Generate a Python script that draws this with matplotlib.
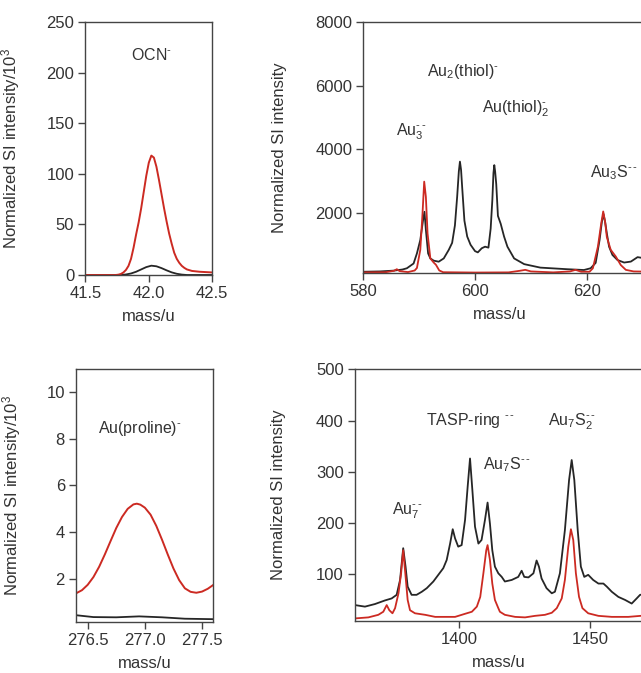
import matplotlib
matplotlib.use("Agg")
import matplotlib.pyplot as plt

plt.rcParams['font.family'] = ['Liberation Sans', 'DejaVu Sans']
plt.rcParams['mathtext.fontset'] = 'custom'
plt.rcParams['mathtext.rm'] = 'Liberation Sans'
plt.rcParams['mathtext.it'] = 'Liberation Sans:italic'
plt.rcParams['mathtext.bf'] = 'Liberation Sans:bold'

# ---------------- data ----------------
# Panel A: OCN-  (intensity / 10^3)
ocn_red_x = [41.50, 41.74, 41.76, 41.78, 41.80, 41.82, 41.84, 41.86, 41.88, 41.90, 41.92, 41.94,
             41.96, 41.98, 42.00, 42.02, 42.04, 42.06, 42.08, 42.10, 42.12, 42.14, 42.16, 42.18,
             42.20, 42.22, 42.24, 42.26, 42.28, 42.30, 42.34, 42.40, 42.50]
ocn_red_y = [0, 0, 0.3, 1, 2.5, 5, 9, 16, 27, 40, 52, 66,
             82, 98, 111, 118, 116, 107, 94, 80, 66, 53, 41, 31,
             22, 16, 12, 9, 7, 5.5, 4, 3.2, 2.5]
ocn_blk_x = [41.50, 41.78, 41.82, 41.86, 41.90, 41.94, 41.98, 42.02, 42.06, 42.10, 42.14, 42.18,
             42.22, 42.26, 42.30, 42.50]
ocn_blk_y = [0, 0, 0.5, 1.5, 3.2, 5.5, 7.8, 9.2, 8.6, 6.8, 4.6, 2.6, 1.2, 0.4, 0, 0]

# Panel B: Au3 / thiol region
au3_blk_x = [580.0, 583.0, 585.4, 587.0, 587.8, 589.0, 589.6, 590.2, 590.7, 590.95, 591.2, 591.6,
             592.0, 592.6, 593.5, 594.4, 595.3, 595.9, 596.4, 596.8, 597.1, 597.3, 597.5, 597.7,
             598.1, 598.6, 599.2, 600.0, 600.5, 601.2, 601.8, 602.4, 602.8, 603.1, 603.3, 603.45,
             603.6, 603.8, 604.1, 604.6, 605.2, 605.8, 607.0, 608.8, 611.7, 616.5, 619.5, 620.7,
             621.6, 622.3, 622.7, 623.0, 623.3, 623.6, 624.0, 624.6, 625.5, 626.7, 627.9, 629.1,
             630.5, 632.0]
au3_blk_y = [140, 150, 175, 210, 250, 400, 720, 1140, 1770, 2030, 1460, 720,
             560, 490, 457, 560, 830, 1050, 1600, 2500, 3300, 3610, 3350, 2800,
             1750, 1250, 990, 790, 750, 880, 930, 900, 1500, 2400, 3250, 3500,
             3300, 2900, 1900, 1650, 1250, 930, 560, 380, 270, 220, 195, 250,
             420, 1140, 1700, 1960, 1700, 1350, 930, 670, 510, 430, 460, 600,
             560, 520]
au3_red_x = [580.0, 584.0, 585.5, 586.0, 586.5, 588.0, 589.2, 589.6, 590.2, 590.6, 590.9, 591.2,
             591.5, 592.0, 592.6, 593.0, 593.6, 594.3, 600.0, 606.0, 608.0, 609.0, 610.0, 614.0,
             617.0, 618.0, 619.0, 620.5, 621.1, 622.0, 622.6, 622.95, 623.3, 623.6, 624.3, 625.2,
             626.1, 627.0, 628.4, 632.0]
au3_red_y = [120, 125, 170, 220, 160, 130, 180, 260, 830, 1980, 2980, 2500,
             1350, 560, 430, 360, 180, 125, 115, 120, 170, 200, 150, 120,
             150, 200, 140, 140, 250, 930, 1670, 2040, 1700, 1230, 830, 620,
             350, 200, 150, 140]

# Panel C: Au(proline)-  (intensity / 10^3)
pro_red_x = [276.40, 276.45, 276.50, 276.55, 276.60, 276.65, 276.70, 276.75, 276.80, 276.85,
             276.90, 276.93, 276.96, 277.00, 277.05, 277.10, 277.15, 277.20, 277.25, 277.30,
             277.35, 277.40, 277.45, 277.50, 277.55, 277.60]
pro_red_y = [1.39, 1.52, 1.75, 2.08, 2.52, 3.05, 3.62, 4.18, 4.65, 5.00,
             5.19, 5.22, 5.18, 5.05, 4.75, 4.27, 3.68, 3.05, 2.45, 1.95,
             1.60, 1.45, 1.41, 1.46, 1.58, 1.75]
pro_blk_x = [276.398, 276.55, 276.75, 276.95, 277.15, 277.35, 277.602]
pro_blk_y = [0.45, 0.37, 0.36, 0.40, 0.36, 0.30, 0.28]

# Panel D: Au7 region
au7_blk_x = [1360.2, 1364.0, 1367.8, 1371.6, 1374.2, 1376.1, 1377.4, 1378.6, 1379.5, 1380.3,
             1381.8, 1383.7, 1385.7, 1387.6, 1390.1, 1392.0, 1393.9, 1395.2, 1396.5, 1397.5,
             1398.4, 1399.6, 1400.9, 1402.2, 1403.2, 1404.1, 1405.0, 1406.0, 1407.3, 1408.5,
             1409.8, 1410.8, 1411.7, 1412.6, 1413.6, 1414.9, 1416.2, 1417.4, 1420.0, 1422.5,
             1423.8, 1424.8, 1426.4, 1428.3, 1429.5, 1430.4, 1431.4, 1433.3, 1435.3, 1436.5,
             1438.4, 1440.3, 1441.9, 1442.9, 1443.9, 1445.2, 1446.4, 1447.7, 1449.2, 1451.1,
             1453.1, 1455.0, 1456.3, 1458.2, 1460.7, 1463.3, 1465.8, 1467.7, 1469.0, 1472.0, 1475.0]
au7_blk_y = [40, 37, 42, 49, 53, 60, 89, 151, 115, 76,
             60, 60, 66, 73, 86, 99, 112, 128, 160, 188,
             170, 154, 157, 206, 271, 326, 264, 193, 160, 167,
             206, 240, 199, 147, 115, 102, 95, 86, 89, 95,
             107, 95, 94, 102, 127, 115, 92, 73, 63, 66,
             102, 186, 284, 323, 284, 186, 115, 95, 99, 89,
             82, 82, 76, 66, 56, 50, 43, 53, 60, 62, 62]
au7_red_x = [1360.2, 1365.3, 1369.1, 1371.0, 1372.3, 1373.3, 1374.5, 1375.5, 1376.8, 1377.8,
             1378.6, 1379.4, 1380.3, 1381.2, 1383.1, 1387.0, 1390.8, 1394.6, 1398.4, 1402.2,
             1404.8, 1406.7, 1408.0, 1409.2, 1410.3, 1410.8, 1411.7, 1412.6, 1413.6, 1414.9,
             1415.5, 1417.4, 1421.3, 1425.1, 1428.9, 1432.7, 1435.3, 1437.2, 1439.1, 1440.3,
             1441.6, 1442.6, 1443.5, 1444.5, 1445.7, 1447.0, 1449.2, 1453.1, 1458.2, 1464.5,
             1469.2, 1475.0]
au7_red_y = [14, 16, 21, 27, 40, 30, 24, 34, 63, 102,
             147, 102, 50, 30, 24, 21, 17, 17, 17, 23,
             27, 37, 56, 102, 147, 157, 128, 82, 50, 34,
             27, 21, 17, 16, 19, 21, 25, 34, 53, 89,
             154, 188, 167, 102, 56, 34, 24, 19, 17, 17,
             19, 18]

# ---------------- style ----------------
RED = '#cc2a22'
BLK = '#262626'
TXT = '#333333'
SPINE = '#444444'
FS = 12
AFS = 11.5
D2 = r'\text{-}\,\text{-}'
D1 = r'\text{-}'

fig = plt.figure(figsize=(6.41, 6.73), dpi=100)


def style(ax, right=True):
    for s in ['top', 'bottom', 'left', 'right']:
        ax.spines[s].set_color(SPINE)
        ax.spines[s].set_linewidth(1.0)
    ax.spines['right'].set_visible(right)
    ax.tick_params(direction='out', length=5, width=1, color=SPINE,
                   labelsize=FS, labelcolor=TXT, pad=3, right=False, top=False)


# Panel A
axA = fig.add_axes([0.1331, 0.5914, 0.1981, 0.3759])
axA.plot(ocn_blk_x, ocn_blk_y, color=BLK, lw=1.3)
axA.plot(ocn_red_x, ocn_red_y, color=RED, lw=1.4)
axA.set_xlim(41.5, 42.5)
axA.set_ylim(0, 250)
axA.set_xticks([41.5, 42.0, 42.5])
axA.set_xticklabels(['41.5', '42.0', '42.5'])
axA.set_yticks([0, 50, 100, 150, 200, 250])
style(axA)
axA.set_ylabel(r'Normalized SI intensity/10$^3$', fontsize=FS, color=TXT)
axA.yaxis.set_label_coords(-0.50, 0.5)
axA.set_xlabel('mass/u', fontsize=FS, color=TXT)
axA.xaxis.set_label_coords(0.5, -0.135)
axA.text(42.02, 217, 'OCN$^{' + D1 + '}$', fontsize=AFS, color=TXT, ha='center', va='center')

# Panel B
axB = fig.add_axes([0.5668, 0.5939, 0.4531, 0.3730])
axB.plot(au3_blk_x, au3_blk_y, color=BLK, lw=1.3)
axB.plot(au3_red_x, au3_red_y, color=RED, lw=1.3)
axB.set_xlim(580, 632)
axB.set_ylim(91, 8000)
axB.set_xticks([580, 600, 620])
axB.set_yticks([2000, 4000, 6000, 8000])
style(axB, right=False)
axB.set_ylabel('Normalized SI intensity', fontsize=FS, color=TXT)
axB.yaxis.set_label_coords(-0.264, 0.5)
axB.set_xlabel('mass/u', fontsize=FS, color=TXT)
axB.xaxis.set_label_coords(0.47, -0.135)
axB.text(585.85, 4555, 'Au$_3^{' + D2 + '}$', fontsize=AFS, color=TXT, ha='left', va='center')
axB.text(591.35, 6445, 'Au$_2$(thiol)$^{' + D1 + '}$', fontsize=AFS, color=TXT, ha='left', va='center')
axB.text(601.2, 5290, 'Au(thiol)$_2^{' + D1 + '}$', fontsize=AFS, color=TXT, ha='left', va='center')
axB.text(620.6, 3275, 'Au$_3$S$^{' + D2 + '}$', fontsize=AFS, color=TXT, ha='left', va='center')

# Panel C
axC = fig.add_axes([0.1186, 0.0758, 0.2137, 0.3759])
axC.plot(pro_blk_x, pro_blk_y, color=BLK, lw=1.3)
axC.plot(pro_red_x, pro_red_y, color=RED, lw=1.4)
axC.set_xlim(276.398, 277.596)
axC.set_ylim(0.16, 10.98)
axC.set_xticks([276.5, 277.0, 277.5])
axC.set_xticklabels(['276.5', '277.0', '277.5'])
axC.set_yticks([2, 4, 6, 8, 10])
style(axC)
axC.set_ylabel(r'Normalized SI intensity/10$^3$', fontsize=FS, color=TXT)
axC.yaxis.set_label_coords(-0.389, 0.5)
axC.set_xlabel('mass/u', fontsize=FS, color=TXT)
axC.xaxis.set_label_coords(0.5, -0.135)
axC.text(276.593, 8.45, 'Au(proline)$^{' + D1 + '}$', fontsize=AFS, color=TXT, ha='left', va='center')

# Panel D
axD = fig.add_axes([0.5538, 0.0773, 0.4693, 0.3740])
axD.plot(au7_blk_x, au7_blk_y, color=BLK, lw=1.3)
axD.plot(au7_red_x, au7_red_y, color=RED, lw=1.3)
axD.set_xlim(1360.2, 1475)
axD.set_ylim(9, 500)
axD.set_xticks([1400, 1450])
axD.set_yticks([100, 200, 300, 400, 500])
style(axD, right=False)
axD.set_ylabel('Normalized SI intensity', fontsize=FS, color=TXT)
axD.yaxis.set_label_coords(-0.229, 0.5)
axD.set_xlabel('mass/u', fontsize=FS, color=TXT)
axD.xaxis.set_label_coords(0.479, -0.135)
axD.text(1374.4, 224, 'Au$_7^{' + D2 + '}$', fontsize=AFS, color=TXT, ha='left', va='center')
axD.text(1387.2, 401, 'TASP-ring $^{' + D2 + '}$', fontsize=AFS, color=TXT, ha='left', va='center')
axD.text(1408.9, 313, 'Au$_7$S$^{' + D2 + '}$', fontsize=AFS, color=TXT, ha='left', va='center')
axD.text(1434.0, 398, 'Au$_7$S$_2^{' + D2 + '}$', fontsize=AFS, color=TXT, ha='left', va='center')

fig.savefig('out.png', dpi=100)
